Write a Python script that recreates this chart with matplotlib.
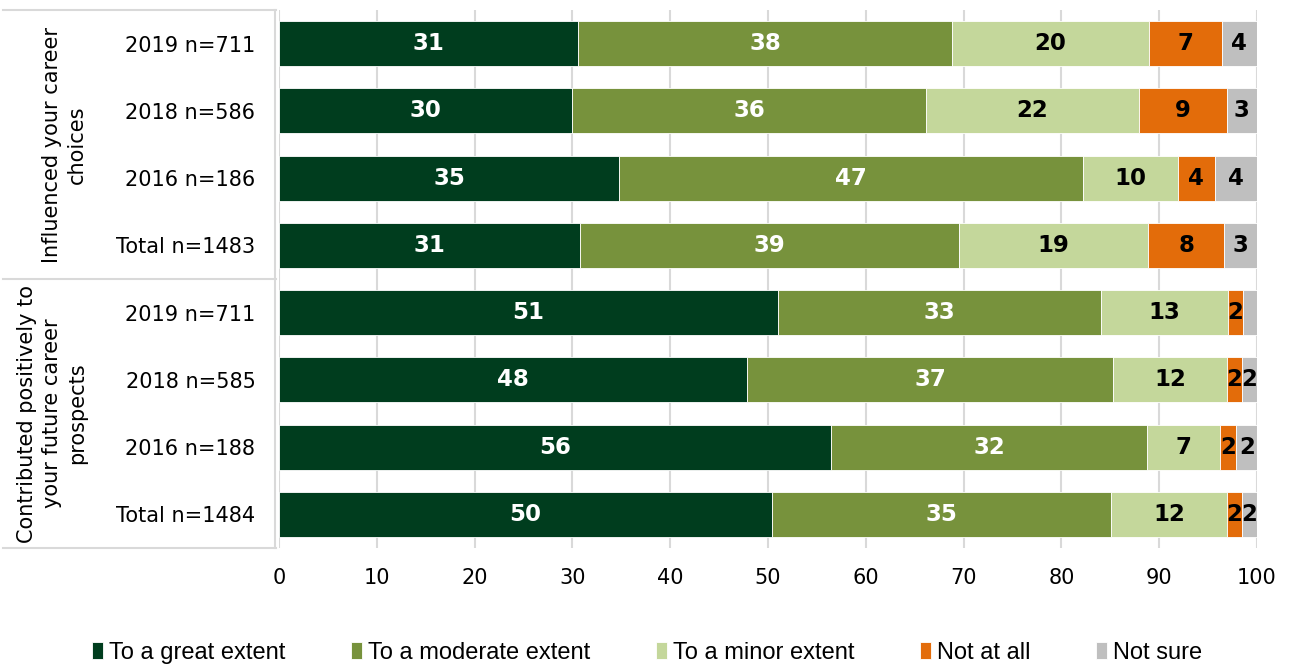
import matplotlib.pyplot as plt
from matplotlib.lines import Line2D

# survey rows, top to bottom
rows = ['2019 n=711', '2018 n=586', '2016 n=186', 'Total n=1483',
        '2019 n=711', '2018 n=585', '2016 n=188', 'Total n=1484']
groups = ['Influenced your career\nchoices',
          'Contributed positively to\nyour future career\nprospects']

series = ['To a great extent', 'To a moderate extent', 'To a minor extent', 'Not at all', 'Not sure']
great    = [30.6, 30.0, 34.8, 30.8, 51.0, 47.9, 56.4, 50.4]
moderate = [38.2, 36.2, 47.4, 38.7, 33.1, 37.4, 32.4, 34.7]
minor    = [20.2, 21.7,  9.7, 19.4, 12.9, 11.6,  7.4, 11.8]
not_all  = [ 7.4,  9.0,  3.8,  7.7,  1.6,  1.6,  1.7,  1.6]
not_sure = [ 3.6,  3.1,  4.3,  3.4,  1.4,  1.5,  2.1,  1.5]

colors = ['#003D1E', '#77923C', '#C4D79B', '#E36C0A', '#BFBFBF']
text_colors = ['white', 'white', 'black', 'black', 'black']

fig = plt.figure(figsize=(12.94, 6.66), dpi=100)
ax = fig.add_axes([0.2156, 0.177, 0.7558, 0.808])

ypos = list(range(len(rows)))
left = [0.0] * len(rows)
for name, vals, c, tc in zip(series, [great, moderate, minor, not_all, not_sure], colors, text_colors):
    bars = ax.barh(ypos, vals, left=left, height=0.67, color=c, edgecolor='white',
                   linewidth=0.6, label=name, zorder=3)
    for b, v in zip(bars, vals):
        if v >= 1.5:
            ax.text(b.get_x() + b.get_width() / 2, b.get_y() + b.get_height() / 2,
                    '{:.0f}'.format(v), ha='center', va='center', color=tc,
                    fontsize=16.5, fontweight='bold', zorder=4)
    left = [l + v for l, v in zip(left, vals)]

ax.set_xlim(0, 100)
ax.set_ylim(len(rows) - 0.5, -0.5)
ax.set_xticks(range(0, 101, 10))
ax.set_yticks(ypos)
ax.set_yticklabels(rows)
ax.tick_params(axis='both', length=0, labelsize=15, colors='black')
ax.tick_params(axis='y', pad=14)
ax.tick_params(axis='x', pad=14)
ax.xaxis.grid(True, color='#D9D9D9', linewidth=1.5, zorder=0)
ax.set_axisbelow(True)
for s in ['top', 'right', 'bottom']:
    ax.spines[s].set_visible(False)
ax.spines['left'].set_color('#D9D9D9')
ax.spines['left'].set_linewidth(1.5)
ax.spines['left'].set_position(('outward', 3))

# group separators and labels on the left
tr = ax.get_yaxis_transform()
for y in [-0.5, 3.5, 7.5]:
    ax.add_line(Line2D([-0.282, -0.003], [y, y], transform=tr, color='#D9D9D9',
                       linewidth=1.5, clip_on=False))
ax.text(-0.219, 1.5, groups[0], transform=tr, rotation=90, ha='center', va='center',
        fontsize=15, linespacing=1.3)
ax.text(-0.232, 5.5, groups[1], transform=tr, rotation=90, ha='center', va='center',
        fontsize=15, linespacing=1.3)

fig.legend(loc='center', bbox_to_anchor=(0.5, 0.02), ncol=5, frameon=False,
           prop={'family': 'Liberation Sans', 'size': 17},
           handlelength=0.45, handleheight=0.75, handletextpad=0.25, columnspacing=2.8)

fig.savefig('out.png', dpi=100)
